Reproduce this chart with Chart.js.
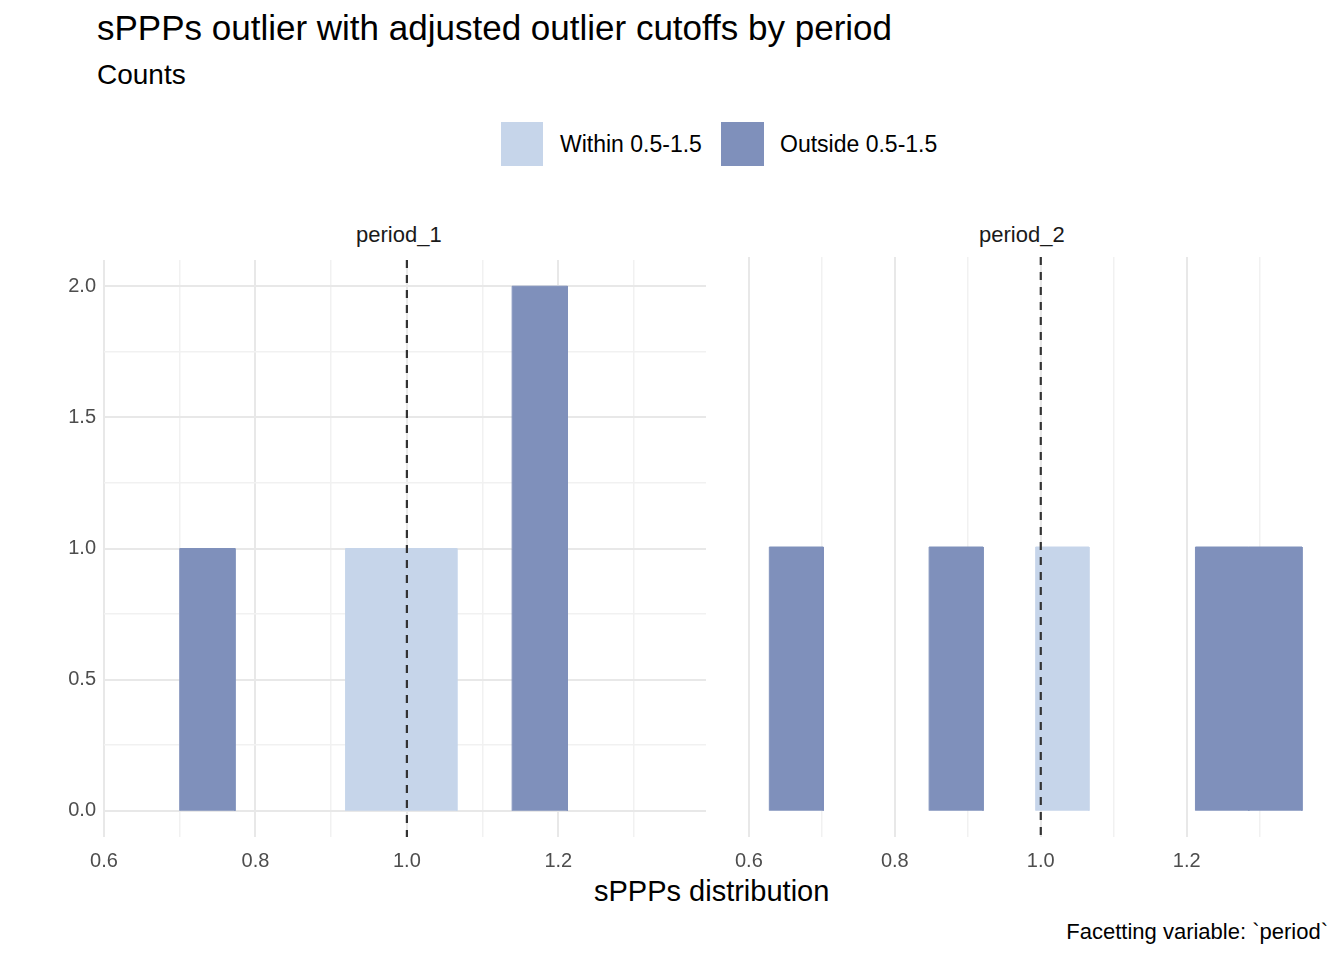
<!DOCTYPE html>
<html><head><meta charset="utf-8">
<script src="https://cdn.jsdelivr.net/npm/chart.js@4/dist/chart.umd.min.js"></script>
<style>
body{margin:0;width:1344px;height:960px;background:#fff;font-family:"Liberation Sans",Arial,sans-serif;position:relative;overflow:hidden}
.t{position:absolute;white-space:nowrap;color:#000}
canvas{position:absolute}
</style></head><body>
<div class="t" style="left:97px;top:8px;font-size:35px">sPPPs outlier with adjusted outlier cutoffs by period</div>
<div class="t" style="left:97px;top:59px;font-size:28px">Counts</div>
<div style="position:absolute;left:501px;top:122px;width:42px;height:44px;background:#c6d5ea"></div>
<div class="t" style="left:560px;top:131px;font-size:23px">Within 0.5-1.5</div>
<div style="position:absolute;left:721px;top:122px;width:43px;height:44px;background:#7f90bb"></div>
<div class="t" style="left:780px;top:131px;font-size:23px">Outside 0.5-1.5</div>
<div class="t" style="left:356px;top:222px;font-size:22px;color:#1a1a1a">period_1</div>
<div class="t" style="left:979px;top:222px;font-size:22px;color:#1a1a1a">period_2</div>
<div class="t" style="left:594px;top:875px;font-size:29px">sPPPs distribution</div>
<div class="t" style="right:16px;top:919px;font-size:22px">Facetting variable: `period`</div>
<canvas id="c1" style="left:0;top:240px"></canvas>
<canvas id="c2" style="left:723px;top:240px"></canvas>
<script>
const p1Start=[0.700,0.919,0.993,1.139];
const p1End  =[0.773,0.993,1.066,1.212];
const p1Count=[1,1,1,2];
const p1Group=["Outside","Within","Within","Outside"];
const p2Start=[0.628,0.847,0.993,1.212,1.285];
const p2End  =[0.702,0.921,1.066,1.285,1.358];
const p2Count=[1,1,1,1,1];
const p2Group=["Outside","Outside","Within","Outside","Outside"];
const cutoff=1.0;
const xTicks=[0.6,0.8,1.0,1.2];
const colors={Within:"#c6d5ea",Outside:"#7f90bb"};

function mk(id,w,starts,ends,counts,groups,showY){
  const ds=starts.map((s,i)=>({data:[{x:s,y:0},{x:s,y:counts[i]},{x:ends[i],y:counts[i]},{x:ends[i],y:0}],
    backgroundColor:colors[groups[i]],borderColor:colors[groups[i]],borderWidth:1,pointRadius:0,fill:'origin',tension:0}));
  const cv=document.getElementById(id);cv.width=w;cv.height=640;cv.style.width=w+'px';cv.style.height='640px';
  const major=v=>xTicks.some(t=>Math.abs(t-v)<1e-6);
  new Chart(cv,{type:'line',data:{datasets:ds},
    options:{responsive:false,animation:false,
      layout:{padding:{left:showY?0:4,right:4,top:17,bottom:3}},
      plugins:{legend:{display:false},tooltip:{enabled:false}},
      scales:{
        x:{type:'linear',min:0.6,max:1.395,border:{display:false},
          afterBuildTicks:a=>{const t=[];for(let v=0.6;v<1.4;v+=0.1)t.push({value:Math.round(v*10)/10});a.ticks=t;},
          grid:{color:c=>major(c.tick.value)?'#e8e8e8':'#f1f1f1',lineWidth:c=>major(c.tick.value)?2:1.5,drawTicks:false},
          ticks:{color:'#4d4d4d',font:{size:20,family:'Liberation Sans'},padding:12,maxRotation:0,autoSkip:false,
            callback:v=>major(v)?v.toFixed(1):''},
          afterFit:a=>{a.height=40;}},
        y:{min:-0.1,max:2.1,display:showY,border:{display:false},
          afterBuildTicks:a=>{a.ticks=[0,0.25,0.5,0.75,1,1.25,1.5,1.75,2].map(v=>({value:v}));},
          grid:{color:c=>(c.tick.value*2%1===0)?'#e8e8e8':'#f1f1f1',lineWidth:c=>(c.tick.value*2%1===0)?2:1.5,drawTicks:false},
          ticks:{color:'#4d4d4d',font:{size:20,family:'Liberation Sans'},padding:8,
            callback:v=>(v*2%1===0)?v.toFixed(1):''},
          afterFit:a=>{if(showY)a.width=104;}}
      }},
    plugins:[{id:'ref',afterDatasetsDraw(ch){const x=ch.scales.x.getPixelForValue(cutoff);const c=ch.ctx;c.save();
      c.strokeStyle='#333';c.lineWidth=2.2;c.setLineDash([8,7]);c.beginPath();c.moveTo(x,ch.chartArea.top);c.lineTo(x,ch.chartArea.bottom);c.stroke();c.restore();}}]
  });
}
mk('c1',710,p1Start,p1End,p1Count,p1Group,true);
mk('c2',610,p2Start,p2End,p2Count,p2Group,false);
</script></body></html>
